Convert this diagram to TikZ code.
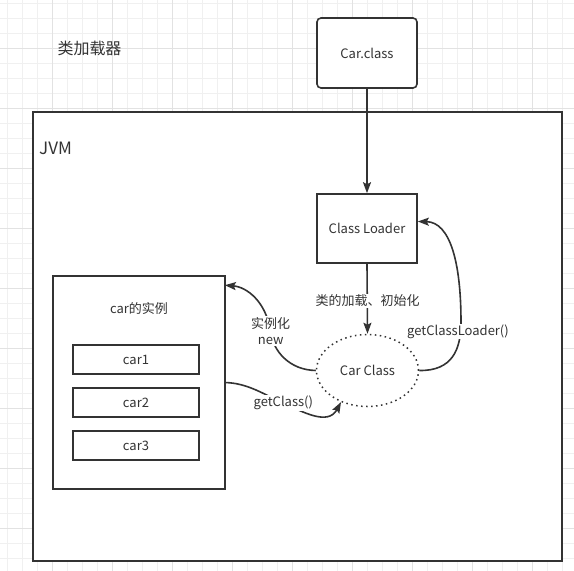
\documentclass[tikz,border=0pt]{standalone}
\usepackage{fontspec}
\setmainfont{Noto Sans CJK SC}
\usetikzlibrary{arrows.meta,shapes.geometric}
\definecolor{ink}{HTML}{333333}
\definecolor{gridminor}{HTML}{F0F0F0}
\definecolor{gridmajor}{HTML}{E2E2E2}
\begin{document}
\begin{tikzpicture}[x=1pt,y=-1pt,
  box/.style={draw=ink,line width=1.6pt,fill=white,text=ink,inner sep=0pt,font=\fontsize{13}{16}\selectfont},
  conn/.style={draw=ink,line width=1.6pt,-{Stealth[length=11pt,width=8pt,inset=2pt]}},
  lbl/.style={fill=white,text=ink,inner sep=1pt,font=\fontsize{13}{16}\selectfont,align=center},
  txt/.style={text=ink,inner sep=0pt}]
\useasboundingbox (0,0) rectangle (574,571);
\fill[white] (0,0) rectangle (574,571);
% grid
\foreach \x in {7.4,22.4,...,574} \draw[gridminor,line width=0.8pt] (\x,0) -- (\x,571);
\foreach \y in {3.5,18.5,...,571} \draw[gridminor,line width=0.8pt] (0,\y) -- (574,\y);
\foreach \x in {52.4,112.4,...,574} \draw[gridmajor,line width=0.8pt] (\x,0) -- (\x,571);
\foreach \y in {48.5,108.5,...,571} \draw[gridmajor,line width=0.8pt] (0,\y) -- (574,\y);
% title
\node[txt,font=\fontsize{16}{19}\selectfont] (title) at (89.5,48) {类加载器};
% JVM
\node[box,minimum width=529pt,minimum height=449pt] (jvm) at (297.5,336.5) {};
\node[txt,anchor=west,font=\fontsize{17}{20}\selectfont] (jvmlbl) at (39,148) {JVM};
% nodes
\node[box,rounded corners=4pt,minimum width=100pt,minimum height=70pt] (cc) at (367,53) {Car.class};
\node[box,minimum width=100pt,minimum height=69pt] (cl) at (367,228.5) {Class Loader};
\node[box,draw=none,fill=none,minimum width=170pt,minimum height=211pt] (inst) at (139,382.5) {};
\draw[ink,line width=1.6pt,fill=white] (inst.north west) rectangle (inst.south east);
\node[txt,font=\fontsize{13}{16}\selectfont] (instlbl) at (139,309) {car的实例};
\node[box,minimum width=126pt,minimum height=29pt] (c1) at (136,359.5) {car1};
\node[box,minimum width=126pt,minimum height=29pt] (c2) at (136,402.5) {car2};
\node[box,minimum width=126pt,minimum height=29pt] (c3) at (136,445.5) {car3};
\node[ellipse,draw=ink,line width=1.5pt,dash pattern=on 1.5pt off 3.5pt,fill=white,text=ink,minimum width=102pt,minimum height=72pt,inner sep=0pt,font=\fontsize{13}{16}\selectfont] (ce) at (367.5,370.5) {Car Class};
% connectors
\draw[conn] (cc.south) -- (cl.north);
\draw[conn] (cl.south) -- (ce.north);
\node[lbl] (l1) at (367.5,301) {类的加载、初始化};
\draw[conn] (ce.east) .. controls (452,371) and (461,350) .. (461,322) .. controls (461,262) and (450,222) .. ([yshift=7pt]cl.east);
\node[lbl] (l2) at (458,331.5) {getClassLoader()};
\draw[conn] (ce.west) .. controls (290,370) and (273,352) .. (270,330) .. controls (266,302) and (247,287) .. ([yshift=-9pt]inst.north east);
\node[lbl] (l3) at (270.7,331) {实例化\\new};
\draw[conn] (inst.east) .. controls (248,383) and (265,395) .. (283,403) .. controls (303,412) and (328,426) .. (ce.230);
\node[lbl] (l4) at (283.3,403.3) {getClass()};
\end{tikzpicture}
\end{document}
